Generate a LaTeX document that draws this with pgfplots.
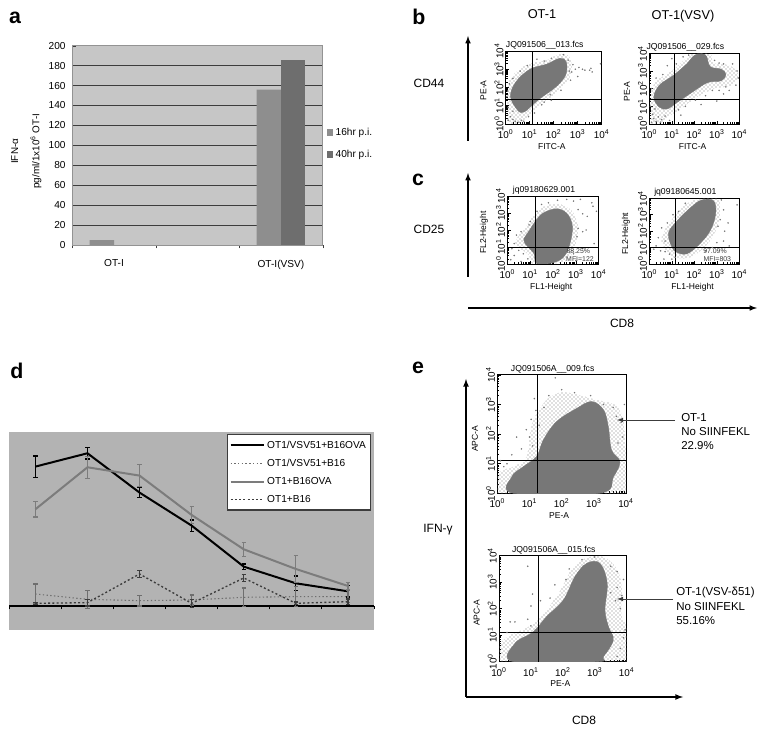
\documentclass[border=0pt]{standalone}
\usepackage{fontspec}
\setmainfont{Liberation Sans}
\usepackage{pgfplots}
\pgfplotsset{compat=1.18}
\usetikzlibrary{patterns}

\definecolor{panelA}{HTML}{C6C6C6}
\definecolor{panelD}{HTML}{B3B3B3}
\definecolor{barOne}{HTML}{8E8E8E}
\definecolor{barTwo}{HTML}{6E6E6E}
\definecolor{griddark}{HTML}{3C3C3C}
\definecolor{cloud}{HTML}{777777}
\definecolor{midgray}{HTML}{7C7C7C}
\definecolor{dotgray}{HTML}{6E6E6E}

\def\logminor{0.3,0.48,0.6,0.7,0.78,0.85,0.9,0.95,1.3,1.48,1.6,1.7,1.78,1.85,1.9,1.95,2.3,2.48,2.6,2.7,2.78,2.85,2.9,2.95,3.3,3.48,3.6,3.7,3.78,3.85,3.9,3.95}

\pgfplotsset{
  /pgf/number format/assume math mode=true,
  flow/.style={
    scale only axis, xmin=0, xmax=4, ymin=0, ymax=4,
    xtick={0,1,2,3,4}, ytick={0,1,2,3,4},
    xticklabels={10\textsuperscript{0},10\textsuperscript{1},10\textsuperscript{2},10\textsuperscript{3},10\textsuperscript{4}},
    yticklabels={10\textsuperscript{0},10\textsuperscript{1},10\textsuperscript{2},10\textsuperscript{3},10\textsuperscript{4}},
    minor xtick=\logminor, minor ytick=\logminor,
    tick pos=left, tick align=inside,
    major tick length=2.5pt, minor tick length=1.5pt,
    tick style={black, line width=0.5pt},
    axis line style={black, line width=0.7pt},
    xticklabel style={font=\fontsize{7.4}{8}\selectfont, inner sep=1pt, yshift=-3pt},
    yticklabel style={font=\fontsize{7.4}{8}\selectfont, inner sep=1pt, rotate=90, anchor=south, yshift=0.5pt},
    title style={font=\fontsize{6.5}{7}\selectfont, inner sep=0pt, yshift=-5pt, xshift=-6.75pt},
    every axis x label/.style={at={(axis description cs:0.48,0)}, anchor=north, yshift=-11pt, font=\fontsize{6.4}{7}\selectfont},
    every axis y label/.style={at={(axis description cs:0,0.46)}, anchor=south, rotate=90, yshift=11pt, font=\fontsize{6.4}{7}\selectfont},
  },
  dense/.style={fill=cloud, draw=cloud, line width=0.3pt, smooth cycle, tension=0.6},
  sparse/.style={pattern=crosshatch dots, pattern color=cloud, draw=none, smooth cycle, tension=0.6},
  ev/.style={only marks, mark=*, mark size=0.35pt, cloud, mark options={draw=none, fill=cloud}},
  gate/.style={black, line width=0.7pt},
}

\begin{document}
\begin{tikzpicture}[x=0.75pt, y=0.75pt]
\path[use as bounding box] (0,0) rectangle (764,735);

% panel a
\begin{axis}[
  at={(54.2pt,367.5pt)}, anchor=south west, scale only axis,
  width=187.8pt, height=149.5pt,
  xmin=-0.5, xmax=2.5, ymin=0, ymax=200,
  ybar=0pt, bar width=0.292,
  axis background/.style={fill=panelA},
  xtick={0,1,2}, xticklabels={OT-I,,OT-I(VSV)},
  minor xtick={-0.5,0.5,1.5,2.5},
  ytick={0,20,...,200},
  ymajorgrids, major grid style={griddark, line width=0.7pt},
  tick pos=left, major x tick style={draw=none},
  minor tick length=2.5pt, tick style={griddark},
  major tick length=2.5pt,
  axis line style={draw=gray!85},
  ticklabel style={font=\fontsize{7.6}{9}\selectfont},
  xticklabel style={yshift=-5pt},
  yticklabel style={xshift=-1.5pt},
  ylabel={IFN-α\\[7pt]pg/ml/1x10\textsuperscript{6} OT-I},
  ylabel style={at={(axis description cs:-0.183,0.47)}, anchor=center, align=center, font=\fontsize{7.4}{9}\selectfont},
  legend style={at={(1.009,0.508)}, anchor=west, draw=none, fill=none, font=\fontsize{7.6}{9}\selectfont, row sep=5.5pt, inner sep=1pt},
  legend cell align=left,
  legend image code/.code={\fill[#1] (0cm,-0.09cm) rectangle (0.17cm,0.09cm);},
]
\addplot[fill=barOne, draw=none] coordinates {(0,5) (2,156)};
\addplot[fill=barTwo, draw=none] coordinates {(2,186)};
\legend{16hr p.i.,40hr p.i.}
\end{axis}

% panel d
\begin{axis}[
  at={(7pt,78.75pt)}, anchor=south west, scale only axis,
  width=273.5pt, height=148.3pt,
  xmin=-0.5, xmax=6.5, ymin=-7.2, ymax=52.1,
  axis background/.style={fill=panelD},
  axis x line*=middle, axis y line=none,
  xtick={-0.5,0.5,1.5,2.5,3.5,4.5,5.5,6.5}, xticklabels={},
  tick align=outside, major tick length=2.5pt,
  x axis line style={black, line width=0.8pt},
  tick style={black, line width=0.6pt},
  clip=false,
  legend style={at={(0.992,0.99)}, anchor=north east, draw=griddark, line width=0.8pt, fill=white,
    font=\fontsize{7.6}{9}\selectfont, row sep=2.6pt, inner xsep=1.5pt, inner ysep=2.5pt},
  legend cell align=left,
  legend image code/.code={\draw[#1] (0cm,0cm) -- (0.87cm,0cm);},
  error bars/error bar style={solid, line width=0.9pt},
  error bars/error mark options={rotate=90, mark size=1.6pt, line width=0.9pt, solid},
]
\addplot[black, line width=1.5pt, error bars/.cd, y dir=both, y explicit] coordinates {
  (0,41.8) +- (0,3.2)
  (1,45.8) +- (0,1.7)
  (2,34.0) +- (0,1.5)
  (3,24.1) +- (0,1.7)
  (4,11.8) +- (0,0.8)
  (5,6.8) +- (0,2.2)
  (6,4.4) +- (0,1.7)
};
\addplot[dotgray, line width=0.8pt, dash pattern=on 1pt off 1.8pt, error bars/.cd, y dir=both, y explicit] coordinates {
  (0,3.6) +- (0,3.0)
  (1,2.0) +- (0,2.7)
  (2,1.6) +- (0,1.6)
  (3,1.8) +- (0,1.5)
  (4,2.6) +- (0,2.8)
  (5,2.8) +- (0,3.0)
  (6,2.8) +- (0,1.8)
};
\addplot[midgray, line width=1.5pt, error bars/.cd, y dir=both, y explicit] coordinates {
  (0,29.0) +- (0,2.3)
  (1,41.6) +- (0,3.3)
  (2,39.1) +- (0,3.3)
  (3,27.3) +- (0,2.5)
  (4,17.0) +- (0,2.1)
  (5,11.1) +- (0,4.1)
  (6,6.0) +- (0,1.0)
};
\addplot[griddark, line width=1pt, dash pattern=on 1.5pt off 1.7pt, error bars/.cd, y dir=both, y explicit] coordinates {
  (0,0.8) +- (0,0.3)
  (1,1.0) +- (0,1.0)
  (2,9.6) +- (0,1.0)
  (3,0.8) +- (0,1.2)
  (4,8.4) +- (0,1.0)
  (5,0.8) +- (0,0.4)
  (6,1.3) +- (0,0.8)
};
\legend{OT1/VSV51+B16OVA,OT1/VSV51+B16,OT1+B16OVA,OT1+B16}
\end{axis}

% panel b left
\begin{axis}[flow, at={(379.3pt,458.25pt)}, anchor=south west, width=72pt, height=54.75pt,
  title={JQ091506\_\_013.fcs}, xlabel={FITC-A}, ylabel={PE-A}]
\addplot[sparse] coordinates {(0.1,0.1)(0.05,1.5)(0.25,2.6)(0.9,3.25)(1.7,3.5)(2.3,3.85)(2.7,3.6)(2.7,2.6)(2.2,1.8)(1.5,1.1)(1.1,0.6)(0.6,0.1)};
\addplot[dense] coordinates {(0.5,0.75)(0.2,1.5)(0.42,2.3)(1.01,3.0)(1.71,3.28)(2.26,3.6)(2.52,3.4)(2.5,2.7)(2.1,2.05)(1.43,1.4)(1.08,1.0)(0.75,0.65)};
\addplot[ev] coordinates {(2.75,2.85)(2.9,3.0)(3.05,3.1)(3.2,3.0)(3.3,2.95)(3.5,2.95)(3.55,3.05)(3.6,2.85)(3.95,3.3)(3.0,2.6)(2.7,2.4)(2.6,3.5)(2.8,3.25)(1.5,1.05)(1.6,1.2)(1.9,1.3)(0.1,0.9)(0.2,0.4)(0.3,0.25)(0.1,0.2)(0.4,0.15)(0.55,0.1)(0.65,0.2)(0.3,0.7)(0.05,1.5)(0.15,2.2)(0.08,1.8)(0.3,2.5)(0.6,2.9)(0.9,3.2)(1.3,3.55)(1.9,3.6)(2.4,3.8)(1.2,0.6)(0.75,0.15)(0.95,0.4)(2.3,1.85)(1.85,1.6)(2.65,2.9)(1.6,3.45)};
\addplot[gate] coordinates {(1.11,0)(1.11,4)};
\addplot[gate] coordinates {(0,1.35)(4,1.35)};
\end{axis}

% panel b right
\begin{axis}[flow, at={(487pt,458.25pt)}, anchor=south west, width=67.5pt, height=53pt,
  title={JQ091506\_\_029.fcs}, xlabel={FITC-A}, ylabel={PE-A}]
\addplot[sparse] coordinates {(0.1,0.05)(0.05,1.5)(0.3,2.4)(1.0,3.0)(1.6,3.7)(1.95,3.98)(2.7,3.98)(2.9,3.45)(3.6,3.3)(3.95,2.8)(3.7,2.2)(2.9,2.0)(2.1,1.5)(1.4,0.85)(0.85,0.4)(0.5,0.05)};
\addplot[dense] coordinates {(0.45,0.95)(0.2,1.5)(0.45,2.2)(1.07,2.75)(1.66,3.4)(2.03,3.9)(2.5,3.9)(2.7,3.25)(3.2,3.1)(3.4,2.8)(3.2,2.45)(2.6,2.35)(1.96,1.85)(1.21,1.2)(0.8,0.85)};
\addplot[ev] coordinates {(0.1,0.1)(0.2,0.3)(0.3,0.15)(0.15,0.55)(0.4,0.4)(0.55,0.25)(0.7,0.45)(0.25,0.85)(0.5,0.1)(0.9,0.2)(0.05,1.0)(0.1,2.0)(0.3,2.6)(0.6,2.8)(0.8,3.3)(1.2,3.4)(1.0,3.7)(1.5,3.8)(1.75,3.9)(2.9,3.6)(3.1,3.45)(3.3,3.4)(3.9,3.0)(3.95,2.6)(3.85,2.2)(3.4,2.1)(3.1,1.9)(2.8,1.9)(2.5,1.6)(3.0,1.3)(3.55,1.9)(2.05,1.35)(1.6,1.0)(1.3,0.8)(1.4,0.5)(2.3,1.1)(3.7,3.4)(3.3,1.7)};
\addplot[gate] coordinates {(1.1,0)(1.1,4)};
\addplot[gate] coordinates {(0,1.36)(4,1.36)};
\end{axis}

% panel c left
\begin{axis}[flow, at={(380.5pt,353.25pt)}, anchor=south west, width=68.5pt, height=51pt,
  title={jq09180629.001}, xlabel={FL1-Height}, ylabel={FL2-Height}]
\addplot[sparse] coordinates {(0.35,1.3)(0.75,2.1)(1.15,2.8)(1.5,3.3)(2.2,3.55)(2.85,3.1)(3.1,2.2)(3.0,1.1)(2.6,0.2)(1.8,0.02)(1.1,0.02)(0.95,0.5)(0.6,0.9)};
\addplot[dense] coordinates {(0.72,1.41)(0.98,2.0)(1.25,2.55)(1.58,3.0)(2.16,3.25)(2.62,2.95)(2.85,2.2)(2.72,1.1)(2.42,0.35)(1.87,0.04)(1.28,0.04)(1.16,0.63)(0.9,1.02)};
\addplot[ev] coordinates {(3.7,3.6)(3.75,3.4)(3.2,3.8)(2.9,3.7)(2.6,3.8)(2.2,3.75)(1.8,3.6)(1.5,3.5)(1.3,3.1)(3.1,3.2)(3.3,2.95)(3.5,2.8)(3.1,2.1)(3.3,1.9)(3.45,2.0)(3.05,1.6)(3.9,3.1)(3.8,1.2)(3.3,0.9)(2.9,0.6)(0.3,1.2)(0.4,1.7)(0.6,1.9)(0.2,0.9)(0.5,0.8)(0.7,0.6)(0.3,0.5)(0.9,0.3)(0.95,2.3)(0.15,0.25)(3.0,0.2)(0.6,0.15)(0.75,1.5)(1.0,2.5)};
\addplot[gate] coordinates {(1.21,0)(1.21,4)};
\addplot[gate] coordinates {(0,0.98)(4,0.98)};
\end{axis}

% panel c right
\begin{axis}[flow, at={(487pt,353.25pt)}, anchor=south west, width=67.5pt, height=49.25pt,
  title={jq09180645.001}, xlabel={FL1-Height}, ylabel={FL2-Height}]
\addplot[sparse] coordinates {(0.55,1.6)(1.05,2.8)(1.7,3.7)(2.3,3.98)(3.05,3.98)(3.15,3.1)(2.95,2.0)(2.45,1.0)(1.7,0.35)(1.0,0.45)(0.75,0.8)};
\addplot[dense] coordinates {(0.85,1.87)(1.25,2.65)(1.85,3.45)(2.33,3.9)(2.85,3.85)(2.95,3.09)(2.72,2.07)(2.22,1.2)(1.66,0.62)(1.21,0.72)(1.02,1.0)};
\addplot[ev] coordinates {(0.4,1.6)(0.55,2.2)(0.7,1.4)(0.8,2.5)(0.3,1.1)(0.5,0.8)(0.7,0.75)(0.9,0.6)(0.65,0.3)(1.0,0.3)(1.05,3.0)(1.3,3.2)(1.6,3.7)(3.2,3.9)(3.3,3.3)(3.15,2.7)(3.05,2.3)(3.9,3.6)(3.3,1.4)(3.55,1.1)(3.0,1.3)(2.8,1.0)(2.5,0.8)(3.5,2.5)(0.2,0.9)(0.95,1.3)(1.15,0.4)(3.35,2.0)};
\addplot[gate] coordinates {(1.17,0)(1.17,4)};
\addplot[gate] coordinates {(0,1.02)(4,1.02)};
\end{axis}

% panel e top
\begin{axis}[flow, at={(373pt,181.3pt)}, anchor=south west, width=96.5pt, height=88.75pt,
  title={JQ091506A\_\_009.fcs}, xlabel={PE-A}, ylabel={APC-A}]
\addplot[sparse] coordinates {(0.08,0)(0.03,0.68)(0.5,0.9)(0.91,1.24)(1.12,2.48)(1.85,3.38)(3.07,3.16)(3.81,2.82)(4,1.47)(4,0)};
\addplot[dense] coordinates {(0.5,0)(0.45,0.56)(0.81,0.9)(1.22,1.24)(1.43,1.8)(1.84,2.42)(2.47,2.87)(2.93,3.1)(3.3,2.82)(3.45,2.25)(3.55,1.46)(3.81,1.07)(3.61,0.56)(3.19,0)};
\addplot[ev] coordinates {(1.8,3.9)(1.05,2.5)(0.9,2.15)(1.0,1.9)(0.75,1.5)(0.6,1.9)(0.45,1.3)(1.1,1.6)(1.2,2.8)(1.6,3.3)(2.0,3.5)(2.4,3.4)(3.6,2.9)(3.7,2.6)(3.85,2.4)(3.9,1.9)(2.9,3.3)(3.95,3.0)(1.45,2.9)(1.3,2.3)(1.15,3.2)(3.3,3.0)(3.75,1.7)(0.2,0.9)(0.3,1.0)(0.1,1.1)};
\addplot[gate] coordinates {(1.25,0)(1.25,4)};
\addplot[gate] coordinates {(0,1.1)(4,1.1)};
\end{axis}

% panel e bottom
\begin{axis}[flow, at={(374.25pt,55pt)}, anchor=south west, width=95.75pt, height=79.5pt,
  title={JQ091506A\_\_015.fcs}, xlabel={PE-A}, ylabel={APC-A}]
\addplot[sparse] coordinates {(0.03,0)(0.14,0.82)(1.08,1.44)(1.8,2.45)(2.43,3.7)(3.27,3.95)(3.8,3.2)(3.85,1.7)(4,1.32)(4,0)};
\addplot[dense] coordinates {(0.45,0)(0.5,0.69)(1.08,1.13)(1.49,1.7)(2.02,2.33)(2.38,3.21)(2.75,3.71)(3.16,3.71)(3.39,2.96)(3.32,1.95)(3.43,1.32)(3.58,0.82)(3.27,0.19)(3.06,0)};
\addplot[ev] coordinates {(0.9,3.6)(1.0,2.1)(0.5,1.5)(0.35,1.5)(0.25,1.1)(0.9,1.6)(1.05,2.55)(1.0,1.35)(1.3,2.3)(1.6,2.4)(1.75,2.9)(2.1,3.1)(2.2,3.5)(2.6,3.85)(3.0,3.95)(3.5,3.6)(3.7,3.4)(3.9,3.1)(3.7,2.8)(3.85,2.5)(3.65,2.3)(3.8,2.0)(3.5,2.6)(3.95,1.2)(3.9,0.9)(3.8,0.5)(3.7,0.2)(1.15,0.2)};
\addplot[gate] coordinates {(1.25,0)(1.25,4)};
\addplot[gate] coordinates {(0,1.11)(4,1.11)};
\end{axis}

% panel letters and shared labels
\begin{scope}[every node/.style={inner sep=0pt}]
\foreach \lx/\ly/\lt in {15/717/a, 419/718/b, 418/555/c, 17/364/d, 418/367/e}
  \node[font=\bfseries\fontsize{16}{18}\selectfont] at (\lx,\ly) {\lt};
\node[font=\fontsize{9.6}{11}\selectfont] at (542,721) {OT-1};
\node[font=\fontsize{9.6}{11}\selectfont] at (683,719) {OT-1(VSV)};
\node[font=\fontsize{9}{11}\selectfont] at (429,652) {CD44};
\node[font=\fontsize{9}{11}\selectfont] at (429,506) {CD25};
\node[font=\fontsize{9}{11}\selectfont] at (622,412) {CD8};
\node[font=\fontsize{9}{11}\selectfont] at (438,205) {IFN-γ};
\node[font=\fontsize{9}{11}\selectfont] at (584,15) {CD8};
\node[griddark, font=\fontsize{5.2}{6}\selectfont] at (578.3,484.3) {88.25\%};
\node[griddark, font=\fontsize{5.2}{6}\selectfont] at (580,475.7) {MFI=122};
\node[griddark, font=\fontsize{5.2}{6}\selectfont] at (715,484) {97.09\%};
\node[griddark, font=\fontsize{5.2}{6}\selectfont] at (717.3,475.7) {MFI=803};
\foreach \ty/\tt in {317/OT-1, 303/No SIINFEKL, 289/22.9\%}
  \node[anchor=west, font=\fontsize{8.6}{10}\selectfont] at (681,\ty) {\tt};
\foreach \ty/\tt in {142/OT-1(VSV-δ51), 128/No SIINFEKL, 114/55.16\%}
  \node[anchor=west, font=\fontsize{8.6}{10}\selectfont] at (676,\ty) {\tt};
\end{scope}
\draw[-latex, line width=0.9pt] (468,594) -- (468,699);
\draw[-latex, line width=0.9pt] (468,458) -- (468,562);
\draw[-latex, line width=0.9pt] (468,427) -- (757,427);
\draw[-latex, line width=1pt] (466,38) -- (466,356);
\draw[-latex, line width=1pt] (466,38) -- (683,38);
\draw[-latex, griddark, line width=0.6pt] (675,315) -- (617,315);
\draw[-latex, griddark, line width=0.6pt] (673,136) -- (617,136);
\end{tikzpicture}
\end{document}
